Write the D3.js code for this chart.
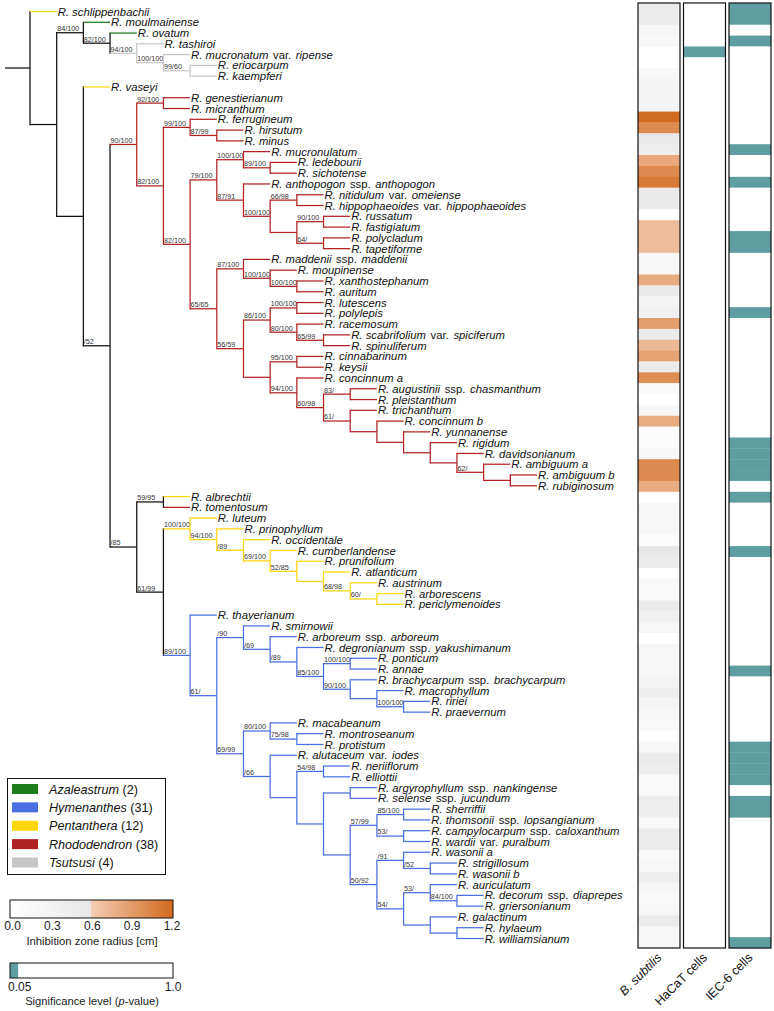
<!DOCTYPE html>
<html><head><meta charset="utf-8">
<script src="https://cdn.jsdelivr.net/npm/d3@7"></script>
<style>
body{margin:0;background:#fff;}
svg{display:block;font-family:"Liberation Sans",Arial,Helvetica,sans-serif;}
</style></head>
<body>
<svg id="chart" width="774" height="1011"></svg>
<script>
// ---------- DATA ----------
const species = [
"R. schlippenbachii","R. moulmainense","R. ovatum","R. tashiroi","R. mucronatum var. ripense","R. eriocarpum","R. kaempferi","R. vaseyi",
"R. genestierianum","R. micranthum","R. ferrugineum","R. hirsutum","R. minus","R. mucronulatum","R. ledebourii","R. sichotense",
"R. anthopogon ssp. anthopogon","R. nitidulum var. omeiense","R. hippophaeoides var. hippophaeoides","R. russatum","R. fastigiatum",
"R. polycladum","R. tapetiforme","R. maddenii ssp. maddenii","R. moupinense","R. xanthostephanum","R. auritum","R. lutescens","R. polylepis",
"R. racemosum","R. scabrifolium var. spiciferum","R. spinuliferum","R. cinnabarinum","R. keysii","R. concinnum a","R. augustinii ssp. chasmanthum",
"R. pleistanthum","R. trichanthum","R. concinnum b","R. yunnanense","R. rigidum","R. davidsonianum","R. ambiguum a","R. ambiguum b","R. rubiginosum",
"R. albrechtii","R. tomentosum","R. luteum","R. prinophyllum","R. occidentale","R. cumberlandense","R. prunifolium","R. atlanticum","R. austrinum",
"R. arborescens","R. periclymenoides","R. thayerianum","R. smirnowii","R. arboreum ssp. arboreum","R. degronianum ssp. yakushimanum","R. ponticum",
"R. annae","R. brachycarpum ssp. brachycarpum","R. macrophyllum","R. ririei","R. praevernum","R. macabeanum","R. montroseanum","R. protistum",
"R. alutaceum var. iodes","R. neriiflorum","R. elliottii","R. argyrophyllum ssp. nankingense","R. selense ssp. jucundum","R. sherriffii",
"R. thomsonii ssp. lopsangianum","R. campylocarpum ssp. caloxanthum","R. wardii var. puralbum","R. wasonii a","R. strigillosum","R. wasonii b",
"R. auriculatum","R. decorum ssp. diaprepes","R. griersonianum","R. galactinum","R. hylaeum","R. williamsianum"
];
// subgenus of each species (same order)
const subgenus = [
"Pentanthera","Azaleastrum","Azaleastrum","Tsutsusi","Tsutsusi","Tsutsusi","Tsutsusi","Pentanthera",
"Rhododendron","Rhododendron","Rhododendron","Rhododendron","Rhododendron","Rhododendron","Rhododendron","Rhododendron",
"Rhododendron","Rhododendron","Rhododendron","Rhododendron","Rhododendron","Rhododendron","Rhododendron","Rhododendron",
"Rhododendron","Rhododendron","Rhododendron","Rhododendron","Rhododendron","Rhododendron","Rhododendron","Rhododendron",
"Rhododendron","Rhododendron","Rhododendron","Rhododendron","Rhododendron","Rhododendron","Rhododendron","Rhododendron",
"Rhododendron","Rhododendron","Rhododendron","Rhododendron","Rhododendron",
"Pentanthera","Rhododendron","Pentanthera","Pentanthera","Pentanthera","Pentanthera","Pentanthera","Pentanthera","Pentanthera",
"Pentanthera","Pentanthera",
"Hymenanthes","Hymenanthes","Hymenanthes","Hymenanthes","Hymenanthes","Hymenanthes","Hymenanthes","Hymenanthes","Hymenanthes",
"Hymenanthes","Hymenanthes","Hymenanthes","Hymenanthes","Hymenanthes","Hymenanthes","Hymenanthes","Hymenanthes","Hymenanthes",
"Hymenanthes","Hymenanthes","Hymenanthes","Hymenanthes","Hymenanthes","Hymenanthes","Hymenanthes","Hymenanthes","Hymenanthes",
"Hymenanthes","Hymenanthes","Hymenanthes","Hymenanthes"
];
const subgenera = ["Azaleastrum","Hymenanthes","Pentanthera","Rhododendron","Tsutsusi"];
const subgenusCounts = [2,31,12,38,4];
const subgenusColors = ["#1b7d1b","#4a6fe0","#ffd60a","#b22222","#c6c6c6"];

// topology (tips are indices into species), internal labels = bootstrap support
const cladeLepidote = "((13,(14,15)89/100)100/100,(16,((17,18)66/98,((19,20)90/100,(21,22)64/))100/100)87/91)79/100";
const cladeMaddenii = "((23,(24,(25,26)100/100)100/100)87/100,(((27,28)100/100,(29,(30,31)65/99)80/100)86/100,((32,33)95/100,(34,((35,36)83/,(37,(38,(39,(40,(41,(42,(43,44))62/)))))61/)60/98)94/100))56/59)65/65";
const cladeRhodo = "((8,9)92/100,((10,(11,12)87/99)99/100,(" + cladeLepidote + "," + cladeMaddenii + ")82/100)82/100)90/100";
const cladePenta = "(47,(48,(49,(50,(51,(52,(53,(54,55)60/)68/98))52/85)69/100)/89)94/100)100/100";
const cladeHymA = "(57,(58,(59,((60,61)100/100,(62,(63,(64,65)100/100))90/100)85/100)/89)/69)/90";
const cladeHymB = "((66,(67,68)75/98)80/100,(69,((70,71)54/98,((72,73),(((74,75)85/100,(76,77)53/)57/99,((78,(79,80)/52)/91,((81,(82,83)84/100)53/,(84,(85,86)))54/)50/92))))/66)69/99";
const cladeHym = "(56,(" + cladeHymA + "," + cladeHymB + ")61/)89/100";
const newick = "(0,((1,(2,(3,(4,(5,6)99/60)100/100)94/100)82/100)84/100,(7,(" + cladeRhodo + ",((45,46)59/95,(" + cladePenta + "," + cladeHym + ")61/99)/85)/52)));";

// B. subtilis inhibition zone radius [cm]
const bSubtilis = [
0.48,0.48,0.22,0.18,0,0,0.18,0.27,0.27,0.27,1.18,1.0,0.52,0.46,0.82,1.0,1.1,0.52,0.52,0,
0.7,0.7,0.7,0.22,0.22,0.8,0.52,0.27,0.35,0.88,0.48,0.72,0.86,0.48,0.98,0.15,0,0.22,0.8,0.1,
0.1,0.22,1.0,1.0,0.8,0,0.22,0.22,0.22,0.1,0.58,0.48,0,0.18,0.18,0.48,0.35,0.22,0,0.22,
0.22,0.22,0.27,0.4,0.27,0.22,0.18,0,0.22,0.48,0.43,0.18,0.18,0.43,0.4,0.18,0.48,0.48,0.18,0.22,
0.4,0.22,0.18,0.22,0.48,0.22,0.22
];
// p-values (significant < 0.05)
const hacatP = [
1,1,1,1,0.01,1,1,1,1,1,1,1,1,1,1,1,1,1,1,1,1,1,1,1,1,1,1,1,1,1,1,1,1,1,1,1,1,1,1,1,
1,1,1,1,1,1,1,1,1,1,1,1,1,1,1,1,1,1,1,1,1,1,1,1,1,1,1,1,1,1,1,1,1,1,1,1,1,1,1,1,
1,1,1,1,1,1,1
];
const iec6P = [
0.01,0.01,1,0.01,1,1,1,1,1,1,1,1,1,0.01,1,1,0.01,1,1,1,1,0.01,0.01,1,1,1,1,1,0.01,1,
1,1,1,1,1,1,1,1,1,1,0.01,0.01,0.01,0.01,1,0.01,1,1,1,1,0.01,1,1,1,1,1,1,1,1,1,
1,0.01,1,1,1,1,1,1,0.01,0.01,0.01,0.01,1,0.01,0.01,1,1,1,1,1,1,1,1,1,1,1,0.01
];
const columns = ["B. subtilis","HaCaT cells","IEC-6 cells"];
const radiusTicks = [0.0,0.3,0.6,0.9,1.2];
const pTicks = [0.05,1.0];

// ---------- PARSE ----------
function parseNewick(s){
  let i=0;
  function node(){
    const n={};
    if(s[i]==='('){
      i++; n.children=[];
      while(true){ n.children.push(node()); if(s[i]===','){i++;continue;} break; }
      i++; // ')'
    }
    let lab='';
    while(i<s.length && !",();".includes(s[i])) lab+=s[i++];
    if(n.children) n.support=lab; else n.tip=+lab;
    return n;
  }
  return node();
}
const tree = parseNewick(newick);

const svg = d3.select("#chart");
const colorOf = d3.scaleOrdinal().domain(subgenera).range(subgenusColors);
const xDepth = d3.scaleLinear().domain([0,19]).range([30,537]);
const yLeaf = d3.scalePoint().domain(species).range([11.5,938.5]);

function layout(n,depth){
  n.depth=depth; n.x=xDepth(depth);
  if(n.children){
    const gs=new Set();
    n.children.forEach(c=>{layout(c,depth+1); c.groups.forEach(g=>gs.add(g));});
    n.groups=gs;
    n.y=(n.children[0].y+n.children[n.children.length-1].y)/2;
  } else {
    n.name=species[n.tip]; n.y=yLeaf(n.name); n.groups=new Set([subgenus[n.tip]]);
  }
  n.color = n.groups.size===1 ? colorOf([...n.groups][0]) : "#111";
}
layout(tree,0);

const gTree = svg.append("g");
const LW = 1.25;
gTree.append("line").attr("x1",5).attr("x2",tree.x).attr("y1",tree.y).attr("y2",tree.y)
  .attr("stroke","#111").attr("stroke-width",LW);
const internals=[], leaves=[];
(function walk(n){ if(n.children){internals.push(n); n.children.forEach(walk);} else leaves.push(n); })(tree);

internals.forEach(n=>{
  gTree.append("line").attr("x1",n.x).attr("x2",n.x)
    .attr("y1",n.children[0].y).attr("y2",n.children[n.children.length-1].y)
    .attr("stroke",n.color).attr("stroke-width",LW).attr("stroke-linecap","square");
  n.children.forEach(c=>{
    gTree.append("line").attr("x1",n.x).attr("x2",c.x).attr("y1",c.y).attr("y2",c.y)
      .attr("stroke",c.color).attr("stroke-width",LW);
    if(c.children && c.support){
      gTree.append("text").attr("x",n.x+0.5).attr("y",c.y-1.6)
        .attr("font-size","7.2px").attr("fill","#333").text(c.support);
    }
  });
});
leaves.forEach(l=>{
  const t=gTree.append("text").attr("x",l.x+1).attr("y",l.y).attr("dy","0.36em")
    .attr("font-size","11.3px").attr("fill","#111");
  const words=l.name.split(" ");
  words.forEach((w,k)=>{
    const up=(w==="var."||w==="ssp.");
    const prevUp=k>0&&(words[k-1]==="var."||words[k-1]==="ssp.");
    t.append("tspan").attr("font-style",up?"normal":"italic")
      .attr("dx",(up||prevUp)?1.5:0)
      .text((k>0?" ":"")+w);
  });
});

// ---------- HEATMAP ----------
const yBand = d3.scaleBand().domain(species).range([3,948]);
const xCol = d3.scaleOrdinal().domain(columns).range([638,683.5,729]);
const colW = 42;
const radiusColor = d3.scaleLinear().domain([0,0.6,0.6001,1.2])
  .range(["#ffffff","#e6e6e6","#f4cdb2","#d2691e"]).clamp(true);
const pColor = d3.scaleThreshold().domain([0.05]).range(["#5f9ea0","#ffffff"]);
const colData = [bSubtilis.map(radiusColor), hacatP.map(pColor), iec6P.map(pColor)];
const gHm = svg.append("g");
columns.forEach((c,ci)=>{
  const g=gHm.append("g");
  g.selectAll("rect").data(species).join("rect")
    .attr("x",xCol(c)).attr("y",d=>yBand(d)).attr("width",colW).attr("height",yBand.bandwidth()+0.3)
    .attr("fill",(d,i)=>colData[ci][i]);
  g.append("rect").attr("x",xCol(c)).attr("y",3).attr("width",colW).attr("height",945)
    .attr("fill","none").attr("stroke","#111").attr("stroke-width",1.2);
  const cx=xCol(c)+colW/2;
  const t=g.append("text").attr("transform",`translate(${cx-3},${952}) rotate(-45)`)
    .attr("text-anchor","end").attr("dy","0.72em").attr("font-size","12.5px").attr("fill","#111");
  if(ci===0){ t.append("tspan").attr("font-style","italic").text(c); } else t.text(c);
});

// ---------- LEGEND ----------
const gLeg = svg.append("g");
gLeg.append("rect").attr("x",7.5).attr("y",778.5).attr("width",158).attr("height",96)
  .attr("fill","#fff").attr("stroke","#111").attr("stroke-width",1);
const yLeg = d3.scalePoint().domain(subgenera).range([789,862.5]);
subgenera.forEach((s,i)=>{
  gLeg.append("rect").attr("x",12).attr("y",yLeg(s)-5).attr("width",26).attr("height",10)
    .attr("fill",colorOf(s));
  const t=gLeg.append("text").attr("x",49).attr("y",yLeg(s)).attr("dy","0.36em")
    .attr("font-size","12.6px").attr("fill","#111");
  t.append("tspan").attr("font-style","italic").text(s);
  t.append("tspan").text(" ("+subgenusCounts[i]+")");
});

const defs = svg.append("defs");
const grad = defs.append("linearGradient").attr("id","rg");
[[0,"#ffffff"],[0.5,"#e6e6e6"],[0.5,"#f4cdb2"],[1,"#d2691e"]].forEach(([o,c])=>
  grad.append("stop").attr("offset",o).attr("stop-color",c));
const xRad = d3.scaleLinear().domain([0,1.2]).range([12.5,172]);
gLeg.append("rect").attr("x",10).attr("y",900).attr("width",163).attr("height",18)
  .attr("fill","url(#rg)").attr("stroke","#111").attr("stroke-width",1);
radiusTicks.forEach(v=>{
  gLeg.append("text").attr("x",xRad(v)).attr("y",930).attr("text-anchor","middle")
    .attr("font-size","12px").attr("fill","#222").text(v.toFixed(1));
});
gLeg.append("text").attr("x",92).attr("y",945).attr("text-anchor","middle")
  .attr("font-size","11.3px").attr("fill","#222").text("Inhibition zone radius [cm]");

const xP = d3.scaleLinear().domain([0,1]).range([10,173]);
gLeg.append("rect").attr("x",xP(0)).attr("y",963).attr("width",xP(0.05)-xP(0)).attr("height",15)
  .attr("fill",pColor(0));
gLeg.append("rect").attr("x",10).attr("y",963).attr("width",163).attr("height",15)
  .attr("fill","none").attr("stroke","#111").attr("stroke-width",1);
pTicks.forEach(v=>{
  gLeg.append("text").attr("x",xP(v)+(v<0.5?1.5:0)).attr("y",991).attr("text-anchor","middle")
    .attr("font-size","12px").attr("fill","#222").text(v===1?"1.0":"0.05");
});
const pt = gLeg.append("text").attr("x",92).attr("y",1005).attr("text-anchor","middle")
  .attr("font-size","11.2px").attr("fill","#222");
pt.append("tspan").text("Significance level (");
pt.append("tspan").attr("font-style","italic").text("p");
pt.append("tspan").text("-value)");
</script>
</body></html>
